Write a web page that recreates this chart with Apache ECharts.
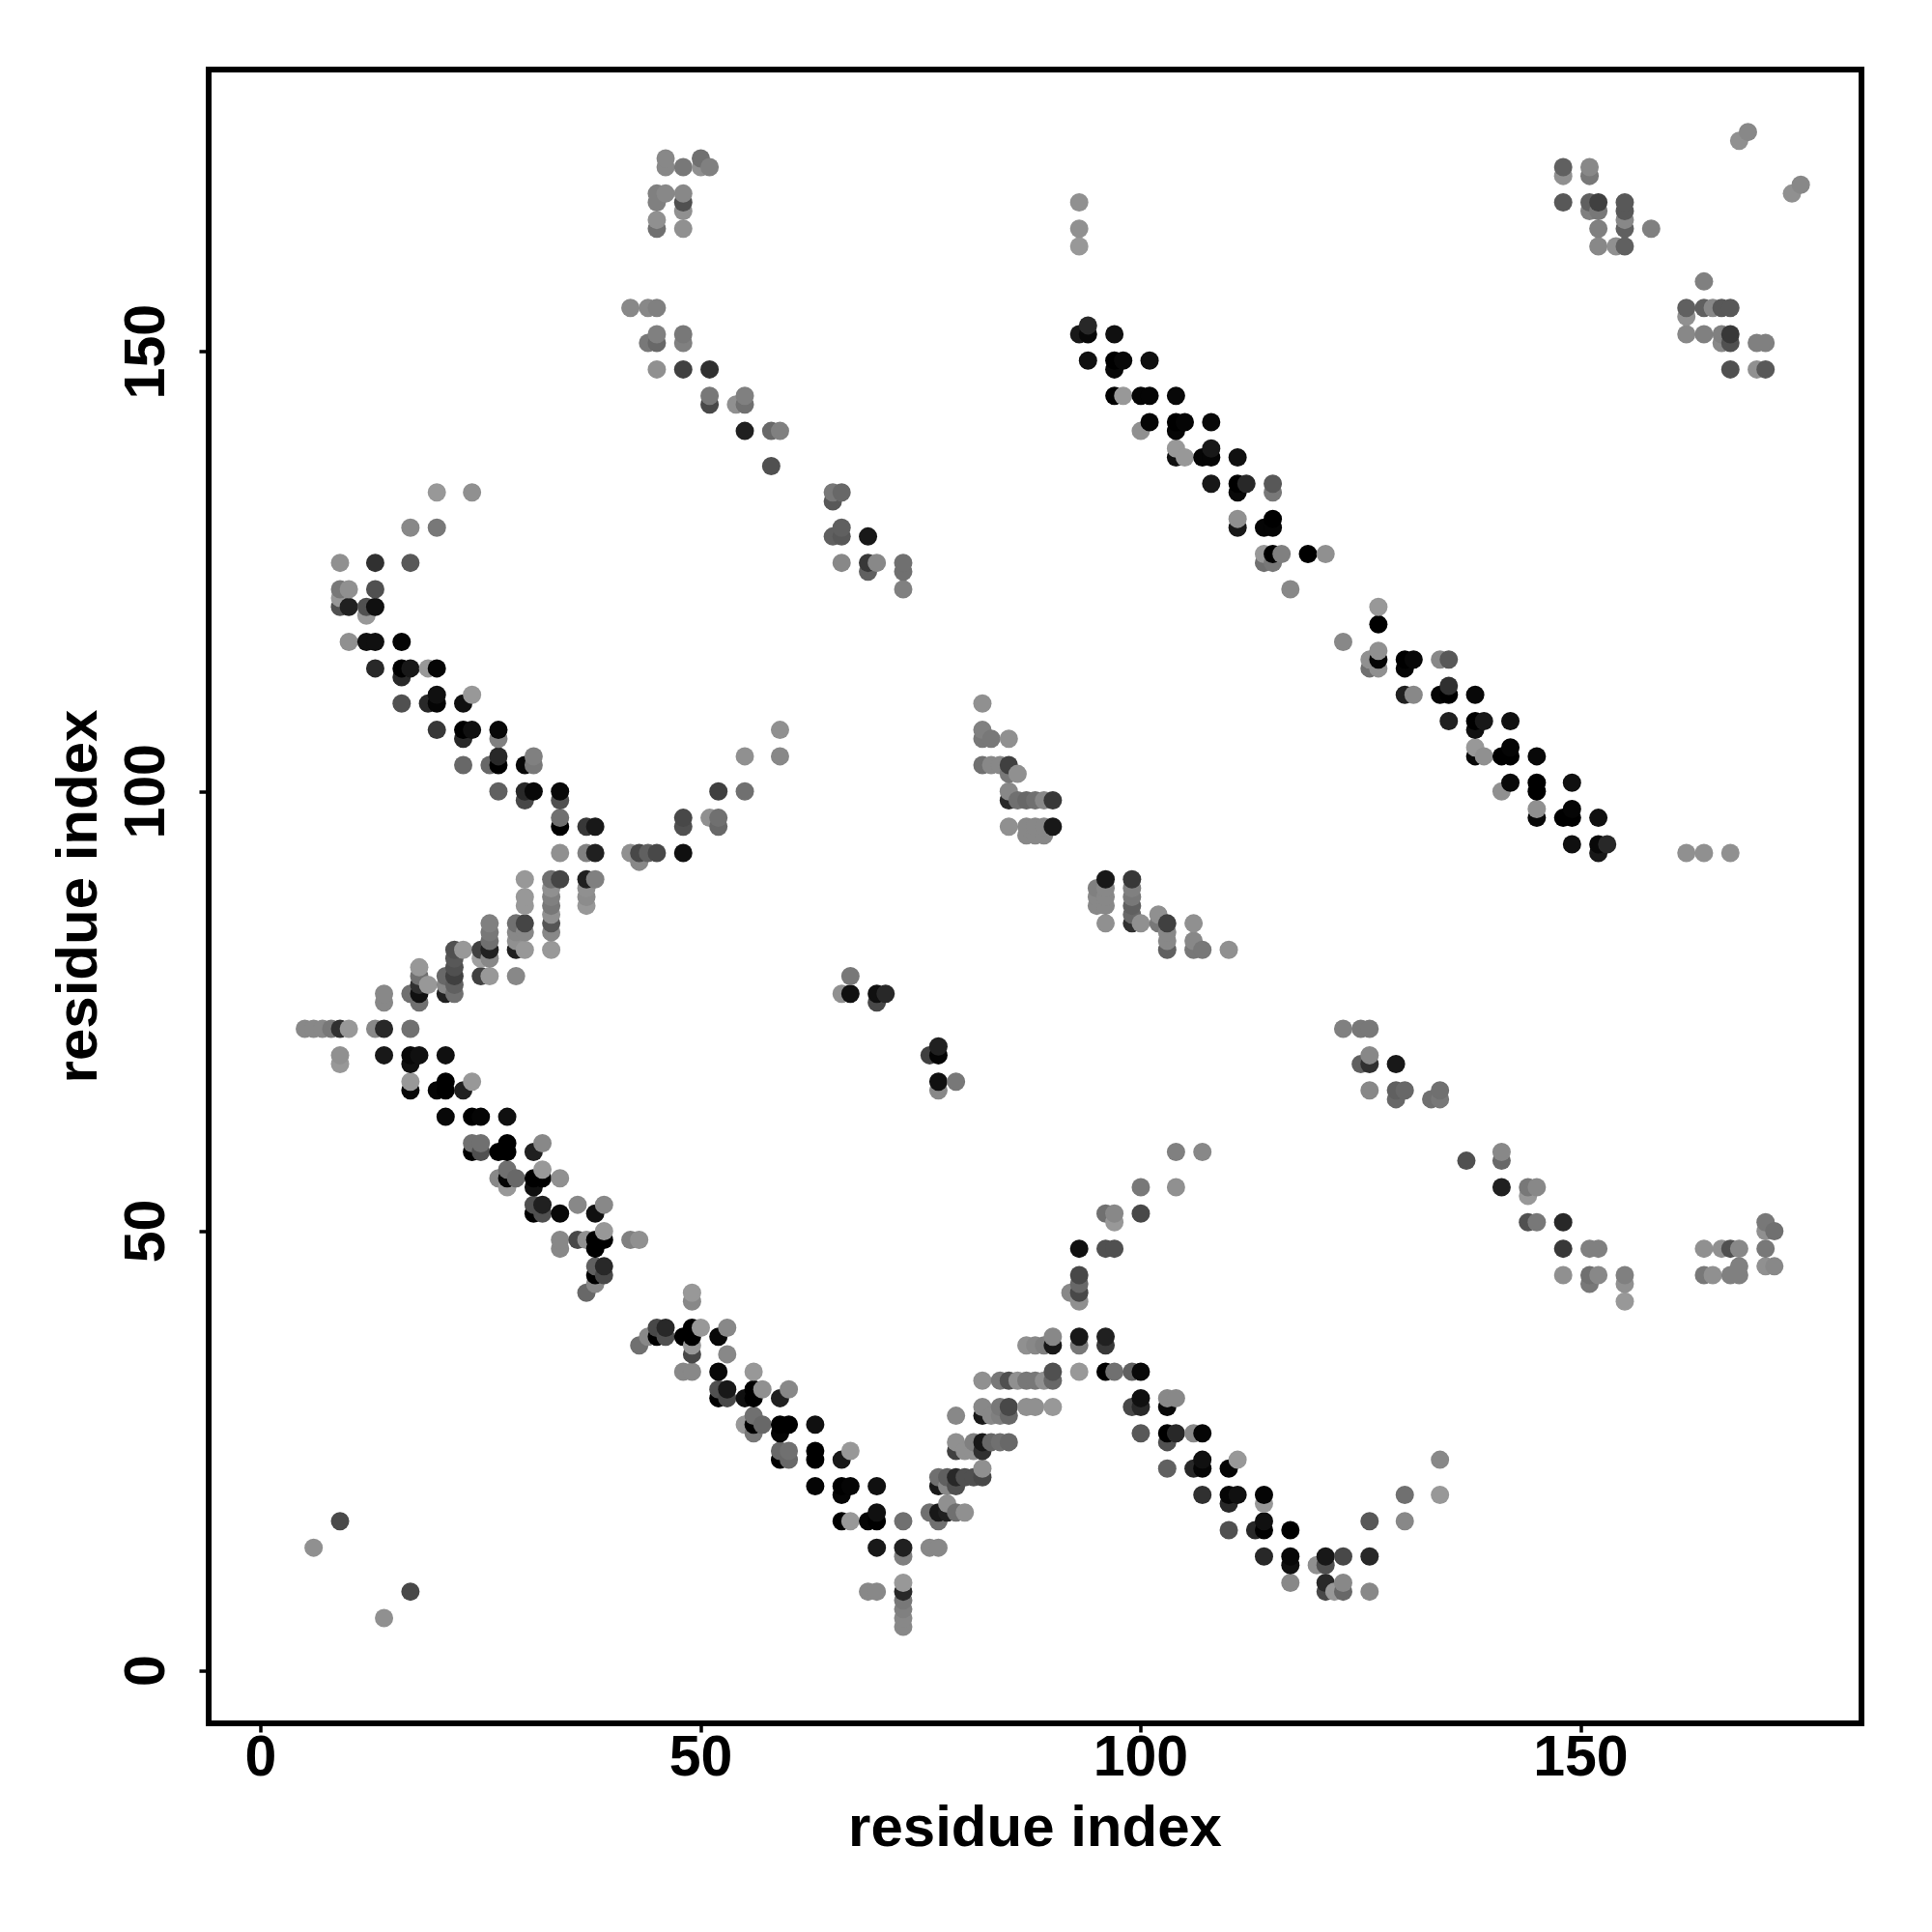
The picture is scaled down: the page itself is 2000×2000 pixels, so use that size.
<!DOCTYPE html>
<html>
<head>
<meta charset="utf-8">
<style>html,body{margin:0;padding:0;background:#fff}#c{width:2000px;height:2000px}</style>
<script src="https://cdn.jsdelivr.net/npm/echarts@6/dist/echarts.min.js"></script>
</head>
<body>
<div id="c"></div>
<script>
// each mark: [residue x, residue y, grey level]
const xTicks = [0, 50, 100, 150];
const yTicks = [0, 50, 100, 150];
const xName = 'residue index';
const yName = 'residue index';

const farLowerLeft = [[9,17,0x4a],[6,14,0x90],[17,9,0x48],[14,6,0x90]];

const leftRising = [
[30,90,0x98],[33,90,0x70],[34,90,0x45],[37,90,0x20],[38,90,0x80],
[30,88,0x98],[30,87,0x98],
[33,89,0x90],[33,88,0x80],[33,87,0x78],[33,86,0x90],[33,85,0x55],[33,84,0x88],[33,82,0x98],
[37,89,0x90],[37,88,0x8c],[37,87,0x98],
[26,85,0x80],[26,84,0x78],[26,83,0x70],[26,82,0x20],[26,81,0x88],
[25,82,0x40],[25,81,0xa0],[25,79,0x40],[26,79,0x98],
[29,85,0x70],[29,84,0x88],[29,83,0x90],[29,82,0x20],[30,85,0x45],[30,84,0x88],[30,82,0x98],[29,79,0x88],
[22,82,0x50],[22,81,0x58],[22,80,0x50],[22,79,0x40],[22,78,0x60],[22,77,0x70],[23,82,0x98],
[21,79,0x68],[21,78,0x88],[21,77,0x20],
[18,80,0x98],[18,79,0x70],[18,78,0x30],[18,77,0x10],[18,76,0x70],[17,77,0x70],[19,78,0x98],
[14,77,0x88],[14,76,0x88]
];

const row73 = [[5,73,0x88],[6,73,0x88],[7,73,0x88],[8,73,0x78],[9,73,0x30],[10,73,0x98],[13,73,0x88],[14,73,0x28],[17,73,0x70],[9,70,0x90],[9,69,0x98]];

const leftFalling = [
[14,70,0x18],[17,70,0x08],[18,70,0x10],[21,70,0x10],[17,69,0x10],
[17,67,0x98],[17,66,0x08],[21,67,0x00],[20,66,0x05],[21,66,0x00],[23,66,0x20],[24,67,0x98],
[21,63,0x08],[24,63,0x00],[25,63,0x05],[28,63,0x10],
[24,60,0x70],[25,60,0x70],[24,59,0x00],[25,59,0x50],[28,60,0x00],[27,59,0x00],[28,59,0x00],[31,59,0x20],[32,60,0x88],
[32,57,0x98],[27,56,0x88],[28,57,0x70],[28,56,0x05],[29,56,0x68],[28,55,0x98],[31,56,0x00],[32,56,0x00],[31,55,0x10],[34,56,0x90],
[31,53,0x50],[32,53,0x20],[36,53,0x88],[39,53,0x88],[31,52,0x00],[32,52,0x50],[34,52,0x08],[38,52,0x10],
[34,49,0x88],[34,48,0x88],[36,49,0x48],[37,49,0x90],[38,49,0x00],[39,49,0x00],[38,48,0x00],[39,50,0x98],[42,49,0x80],[43,49,0x90],
[38,46,0x60],[39,46,0x28],[38,45,0x00],[39,45,0x48],[38,44,0x88],[37,43,0x68]
];

const lowerMiddleFalling = [
[43,37,0x70],[44,38,0x88],[45,39,0x48],[45,38,0x00],[46,39,0x28],[46,38,0x50],
[48,38,0x00],[49,39,0x00],[49,38,0x00],[50,39,0x98],[49,43,0x98],[49,42,0x88],[49,37,0x98],[49,36,0x48],
[48,34,0x88],[49,34,0x88],[52,38,0x08],[53,39,0x88],[53,36,0x88],[52,34,0x08],
[52,32,0x50],[53,32,0x18],[52,31,0x00],[53,31,0x48],[55,31,0x10],[56,34,0x98],[56,32,0x00],[56,31,0x00],[57,32,0x90],
[59,31,0x20],[60,32,0x88],[56,29,0x70],[55,28,0x98],[56,28,0x00],[57,28,0x68],[56,27,0x78],
[59,28,0x00],[60,28,0x00],[59,27,0x05],[63,28,0x10],
[59,25,0x68],[60,25,0x70],[59,24,0x00],[60,24,0x68],[63,25,0x00],[63,24,0x00],[66,24,0x18],[67,25,0x98],
[63,21,0x05],[66,21,0x00],[67,21,0x05],[66,20,0x05],[70,21,0x10],
[70,18,0x10],[66,17,0x00],[67,17,0x98],[69,17,0x05],[70,17,0x00],[73,17,0x70],
[70,14,0x18],[73,14,0x20],[73,13,0x80],[76,14,0x88],[77,14,0x88],
[69,9,0x88],[70,9,0x88],[73,10,0x98],[73,9,0x28],[73,8,0x78],[73,7,0x80],[73,6,0x88],[73,5,0x88]
];

const lowerMiddleRising = [
[76,18,0x70],[77,18,0x18],[78,19,0x90],[77,17,0x70],[78,18,0x20],[79,18,0x70],[80,18,0x90],
[77,22,0x70],[78,22,0x60],[79,22,0x28],[80,22,0x50],[81,22,0x50],[82,22,0x48],[82,23,0x90],
[77,21,0x18],[78,21,0x88],[79,21,0x50],
[79,26,0x90],[81,26,0x80],[82,26,0x18],[83,26,0x68],[84,26,0x70],[85,26,0x68],
[79,25,0x40],[80,25,0x90],[81,25,0x90],[82,25,0x30],[79,29,0x88],
[82,30,0x88],[84,30,0x78],[85,30,0x48],[87,30,0x90],[88,30,0x90],[90,30,0x98],
[82,29,0x18],[83,29,0x88],[84,29,0x80],[85,29,0x68],
[82,33,0x90],[84,33,0x78],[85,33,0x50],[86,33,0x90],[87,33,0x78],[88,33,0x78],[89,33,0x90],[90,33,0x68],[90,34,0x50],
[87,37,0x90],[88,37,0x88],[89,37,0x80],[90,37,0x18],[90,38,0x88]
];

const lowerRightArm = [
[104,59,0x80],[107,59,0x88],[100,55,0x78],[104,55,0x90],
[96,52,0x70],[97,52,0x88],[97,51,0x98],[100,52,0x48],
[93,48,0x10],[96,48,0x50],[97,48,0x50],
[93,45,0x48],[93,44,0x68],[93,43,0x48],[93,42,0x90],[92,43,0x88],
[93,38,0x18],[96,38,0x20],[93,37,0x78],[96,37,0x38],
[93,34,0x98],[96,34,0x00],[97,34,0x70],[99,34,0x60],[100,34,0x08],
[100,31,0x10],[103,31,0x88],[104,31,0x88],[99,30,0x48],[100,30,0x28],[103,30,0x08],
[100,27,0x58],[103,27,0x00],[104,27,0x28],[106,27,0x88],[107,27,0x05],[103,26,0x50],
[107,24,0x10],[111,24,0x98],[103,23,0x60],[106,23,0x28],[107,23,0x05],[110,23,0x05],
[107,20,0x30],[110,20,0x05],[111,20,0x10],[114,20,0x05],[110,19,0x28],[114,19,0x98],
[114,17,0x10],[126,17,0x58],[130,17,0x88],[110,16,0x50],[113,16,0x28],[114,16,0x00],[117,16,0x00],
[134,24,0x88],[130,20,0x70],[134,20,0x98],
[114,13,0x28],[117,13,0x08],[121,13,0x18],[123,13,0x48],[126,13,0x28],[117,12,0x10],[120,12,0x90],[121,12,0x50],
[117,10,0x88],[121,10,0x28],[123,10,0x88],[121,9,0x48],[122,9,0x98],[123,9,0x68],[126,9,0x88]
];

const rightMiddleFalling = [
[123,73,0x80],[125,73,0x78],[126,73,0x78],
[125,69,0x60],[126,69,0x30],[129,69,0x18],[126,70,0x88],
[126,66,0x88],[129,66,0x60],[130,66,0x68],[129,65,0x68],[133,65,0x70],[134,65,0x78],[134,66,0x70],
[137,58,0x50],[141,59,0x88],[141,58,0x68],
[141,55,0x20],[144,55,0x78],[145,55,0x88],[144,54,0x98],
[144,51,0x50],[145,51,0x78],[148,51,0x28],
[148,48,0x38],[151,48,0x80],[152,48,0x80],
[148,45,0x90],[151,45,0x70],[152,45,0x88],[151,44,0x78],[155,45,0x80],[155,44,0x90],[155,42,0x98]
];

const rightLowerCluster = [
[164,48,0x90],[166,48,0x90],[167,48,0x50],[168,48,0x88],
[164,45,0x78],[165,45,0x90],[167,45,0x80],[168,45,0x80],[168,46,0x80],
[171,51,0x78],[171,50,0x90],[172,50,0x70],[171,48,0x78],[171,46,0x90],[172,46,0x88]
];

const centerClusters = [
[67,79,0x78],[66,77,0x90],[67,77,0x10],[70,77,0x10],[71,77,0x28],[70,76,0x48],
[77,71,0x20],[76,70,0x40],[77,70,0x05],[77,67,0x10],[79,67,0x78],[77,66,0x88]
];

const centerUpperFalling = [
[82,110,0x90],[82,107,0x80],[82,106,0x78],[83,106,0x78],[85,106,0x90],
[82,103,0x70],[83,103,0x88],[84,103,0x88],[85,103,0x40],[85,102,0x78],[86,102,0x90],
[85,100,0x88],[85,99,0x28],[86,99,0x70],[87,99,0x68],[88,99,0x70],[89,99,0x88],[90,99,0x38],
[85,96,0x90],[87,96,0x88],[88,96,0x88],[89,96,0x88],[90,96,0x18],[87,95,0x88],[88,95,0x88],[89,95,0x88],
[96,90,0x18],[99,90,0x38],[95,89,0x80],[96,89,0x88],[95,88,0x88],[95,87,0x88],[96,88,0x88],[96,87,0x88],
[99,89,0x80],[99,88,0x78],[99,87,0x60],[99,86,0x68],[99,85,0x30],[96,85,0x90],[100,85,0x90],
[102,86,0x90],[102,85,0x78],[103,85,0x40],[103,84,0x88],[103,83,0x88],[103,82,0x60],
[106,85,0x90],[106,83,0x88],[106,82,0x78],[107,82,0x78],[110,82,0x90]
];

const upperLeftFalling = [
[20,134,0x98],[24,134,0x90],[17,130,0x88],[20,130,0x78],
[9,126,0x90],[13,126,0x30],[17,126,0x58],
[9,123,0x78],[10,123,0x90],[13,123,0x50],[9,122,0x98],
[9,121,0x50],[10,121,0x20],[12,121,0x50],[13,121,0x10],[12,120,0x98],
[10,117,0x90],[12,117,0x10],[13,117,0x10],[16,117,0x05],
[13,114,0x28],[16,114,0x00],[17,114,0x18],[19,114,0x98],[20,114,0x05],[16,113,0x28],
[20,111,0x10],[24,111,0x98],[16,110,0x50],[19,110,0x28],[20,110,0x05],[23,110,0x10],
[20,107,0x38],[23,107,0x00],[24,107,0x10],[27,107,0x08],[23,106,0x28],[27,106,0x80],
[27,104,0x28],[31,104,0x80],[55,104,0x90],[23,103,0x68],[26,103,0x68],[27,103,0x00],[30,103,0x08],[31,103,0x78],
[27,100,0x60],[30,100,0x28],[31,100,0x08],[34,100,0x08],[52,100,0x40],[55,100,0x70],[30,99,0x48],[34,99,0x50],
[34,97,0x70],[48,97,0x48],[51,97,0x90],[52,97,0x70],
[34,96,0x00],[37,96,0x38],[38,96,0x18],[48,96,0x50],[52,96,0x68],
[34,93,0x90],[37,93,0x80],[38,93,0x20],[42,93,0x90],[43,93,0x48],[44,93,0x60],[45,93,0x48],[48,93,0x10],[43,92,0x88],
[59,107,0x90],[59,104,0x88]
];

const upperMiddle = [
[46,172,0x88],[46,171,0x88],[48,171,0x78],[50,172,0x70],[50,171,0x90],[51,171,0x80],
[45,168,0x80],[46,168,0x88],[48,168,0x88],[45,167,0x80],[48,167,0x50],[48,166,0x90],
[45,165,0x90],[45,164,0x70],[48,164,0x90],
[42,155,0x88],[44,155,0x88],[45,155,0x80],
[45,152,0x80],[48,152,0x78],[44,151,0x78],[45,151,0x68],[48,151,0x80],
[45,148,0x90],[48,148,0x40],[51,148,0x30],
[51,145,0x78],[55,145,0x80],[51,144,0x48],[54,144,0x90],[55,144,0x70],
[55,141,0x20],[58,141,0x68],[59,141,0x80],[58,137,0x50],
[65,134,0x78],[66,134,0x68],[65,133,0x58],
[66,130,0x60],[65,129,0x60],[66,129,0x58],[69,129,0x18],
[66,126,0x88],[69,126,0x38],[70,126,0x88],[69,125,0x60],[73,125,0x70],[73,126,0x70],[73,123,0x80]
];

const upperDiagonalA = [
[93,167,0x90],[93,164,0x90],[93,162,0x98],
[94,153,0x28],[93,152,0x18],[94,152,0x08],[97,152,0x10],
[94,149,0x10],[97,149,0x00],[98,149,0x08],[101,149,0x10],[97,148,0x08],
[97,145,0x00],[98,145,0x98],[100,145,0x05],[101,145,0x05],[104,145,0x08],
[101,142,0x05],[104,142,0x00],[105,142,0x05],[108,142,0x08],[104,141,0x05],[100,141,0x90],
[104,139,0x98],[108,139,0x18],[104,138,0x10],[105,138,0x98],[107,138,0x05],[108,138,0x05],[111,138,0x10],
[108,135,0x18],[111,135,0x00],[112,135,0x28],[115,135,0x58],[111,134,0x08],[115,134,0x78],
[111,131,0x90],[115,131,0x00],[111,130,0x18],[114,130,0x05],[115,130,0x05],
[114,127,0x98],[115,127,0x00],[116,127,0x80],[119,127,0x00],[121,127,0x90],[114,126,0x70],[115,126,0x78],
[117,123,0x88]
];

const upperDiagonalB = [
[127,121,0x98],[127,119,0x00],[123,117,0x88],[127,116,0x90],
[126,115,0x90],[127,115,0x05],[130,115,0x00],[131,115,0x08],[134,115,0x88],[135,115,0x58],
[126,114,0x70],[127,114,0x90],[130,114,0x05],
[135,112,0x30],[130,111,0x20],[131,111,0x88],[134,111,0x05],[135,111,0x00],[138,111,0x08],
[135,108,0x20],[138,108,0x00],[139,108,0x18],[142,108,0x10],[138,107,0x10],
[138,105,0x98],[142,105,0x05],[138,104,0x08],[139,104,0x90],[141,104,0x00],[142,104,0x00],[145,104,0x08],
[142,101,0x08],[145,101,0x00],[149,101,0x10],[145,100,0x00],[141,100,0x90],
[145,98,0x90],[149,98,0x05],[145,97,0x08],[148,97,0x00],[149,97,0x00],[152,97,0x10],
[149,94,0x10],[152,94,0x08],[153,94,0x28],[152,93,0x18],
[162,93,0x90],[164,93,0x90],[167,93,0x90]
];

const topRight = [
[169,175,0x88],[168,174,0x90],[175,169,0x88],[174,168,0x90],
[148,171,0x60],[148,170,0x90],[151,171,0x88],[151,170,0x78],
[148,167,0x58],[151,167,0x60],[152,167,0x40],[155,167,0x58],
[151,166,0x80],[152,166,0x78],[155,166,0x58],[155,165,0x88],
[152,164,0x80],[155,164,0x60],[158,164,0x80],[152,162,0x88],[154,162,0x90],[155,162,0x60],
[164,158,0x80],[162,155,0x60],[164,155,0x60],[165,155,0x88],[166,155,0x58],[167,155,0x58],[162,154,0x90],
[162,152,0x88],[164,152,0x80],[166,152,0x80],[167,152,0x38],[166,151,0x88],[167,151,0x50],[170,151,0x80],[171,151,0x80],
[167,148,0x50],[170,148,0x90],[171,148,0x58]
];

const points = [].concat(farLowerLeft, leftRising, row73, leftFalling, lowerMiddleFalling, lowerMiddleRising,
  lowerRightArm, rightMiddleFalling, rightLowerCluster, centerClusters, centerUpperFalling,
  upperLeftFalling, upperMiddle, upperDiagonalA, upperDiagonalB, topRight)
  .slice().sort((a, b) => a[0] - b[0] || a[1] - b[1]);

const chart = echarts.init(document.getElementById('c'), null, {renderer: 'canvas'});
const font = '"Liberation Sans", Arial, sans-serif';
const axisCommon = {
  type: 'value',
  nameLocation: 'middle',
  splitLine: {show: false},
  axisLine: {show: false, onZero: false},
  axisTick: {show: true, length: 9.5, inside: false, lineStyle: {color: '#000', width: 3.5}},
  nameTextStyle: {fontFamily: font, fontWeight: 'bold', fontSize: 60, color: '#000'}
};
chart.setOption({
  animation: false,
  backgroundColor: '#fff',
  grid: {left: 216, top: 72, width: 1711, height: 1712, show: true, borderColor: '#000', borderWidth: 6, backgroundColor: '#fff', containLabel: false},
  xAxis: Object.assign({}, axisCommon, {
    min: -5.93, max: 181.9,
    name: xName, nameGap: 80,
    axisTick: Object.assign({}, axisCommon.axisTick, {customValues: xTicks}),
    axisLabel: {customValues: xTicks, fontFamily: font, fontWeight: 'bold', fontSize: 59, color: '#000', margin: 8, showMinLabel: true, showMaxLabel: true, hideOverlap: false}
  }),
  yAxis: Object.assign({}, axisCommon, {
    min: -5.98, max: 182.1,
    name: yName, nameGap: 103,
    axisTick: Object.assign({}, axisCommon.axisTick, {customValues: yTicks}),
    axisLabel: {customValues: yTicks, rotate: 90, fontFamily: font, fontWeight: 'bold', fontSize: 59, color: '#000', margin: 33, showMinLabel: true, showMaxLabel: true, hideOverlap: false, align: 'center', verticalAlign: 'bottom'}
  }),
  series: [{
    type: 'scatter',
    symbol: 'circle',
    symbolSize: 19,
    silent: true,
    progressive: 0,
    data: points,
    itemStyle: {
      opacity: 1,
      color: p => { const g = p.data[2]; return 'rgb(' + g + ',' + g + ',' + g + ')'; }
    }
  }]
});
</script>
</body>
</html>
